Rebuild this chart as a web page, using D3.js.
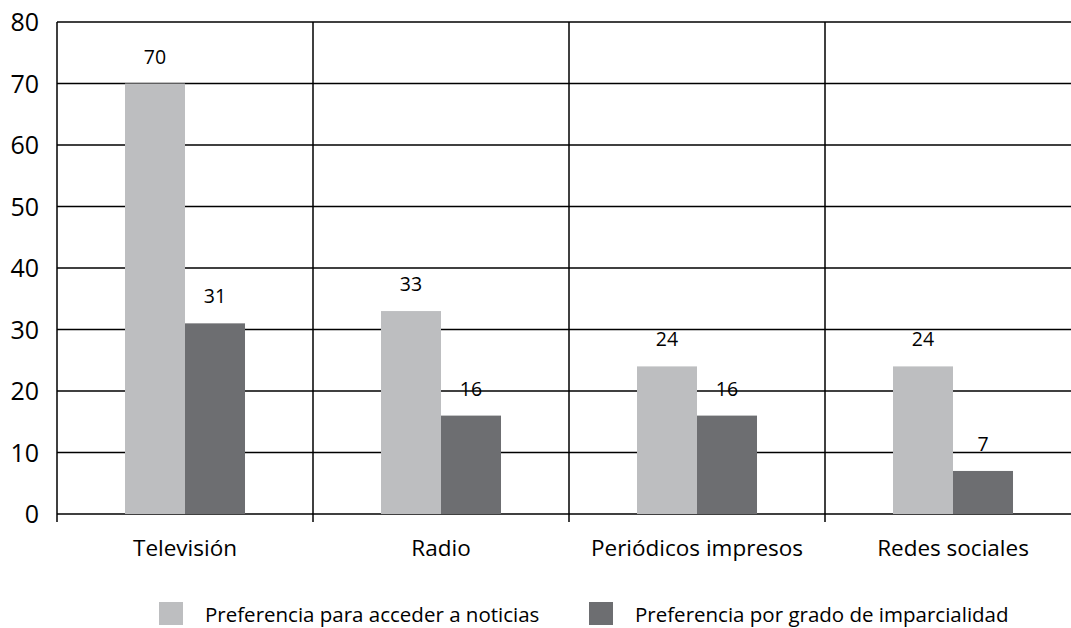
<!DOCTYPE html>
<html>
<head>
<meta charset="utf-8">
<script src="https://cdn.jsdelivr.net/npm/d3@7"></script>
<style>
  html, body { margin: 0; padding: 0; background: #fff; }
  svg { display: block; font-family: "Open Sans", sans-serif; }
</style>
</head>
<body>
<svg id="chart" width="1071" height="628"></svg>
<script>
const categories = ["Televisión", "Radio", "Periódicos impresos", "Redes sociales"];
const seriesNames = ["Preferencia para acceder a noticias", "Preferencia por grado de imparcialidad"];
const accesoValues = [70, 33, 24, 24];
const imparcialidadValues = [31, 16, 16, 7];
const yTicks = [0, 10, 20, 30, 40, 50, 60, 70, 80];
const colors = ["#bdbec0", "#6d6e71"];

const svg = d3.select("#chart");
const plotLeft = 57, plotRight = 1081, plotTop = 22, plotBottom = 514;

const x0 = d3.scaleBand().domain(categories).range([plotLeft, plotRight]).paddingInner(0).paddingOuter(0);
const x1 = d3.scaleBand().domain(seriesNames).range([0, x0.bandwidth()]).paddingInner(0).paddingOuter(1.133);
const y = d3.scaleLinear().domain([0, 80]).range([plotBottom, plotTop]);
const color = d3.scaleOrdinal().domain(seriesNames).range(colors);

const rows = categories.map((c, i) => ({
  category: c,
  values: [
    { series: seriesNames[0], value: accesoValues[i] },
    { series: seriesNames[1], value: imparcialidadValues[i] }
  ]
}));

// horizontal gridlines
svg.append("g").selectAll("line").data(yTicks).join("line")
  .attr("x1", plotLeft).attr("x2", plotRight)
  .attr("y1", d => y(d)).attr("y2", d => y(d))
  .attr("stroke", "#000").attr("stroke-width", 1.5);

// vertical dividers (category boundaries) with tick below axis
const boundaries = categories.map(c => x0(c)).concat([plotRight]);
svg.append("g").selectAll("line").data(boundaries).join("line")
  .attr("x1", d => d).attr("x2", d => d)
  .attr("y1", plotTop).attr("y2", plotBottom + 8)
  .attr("stroke", "#000").attr("stroke-width", 1.5);

// y axis labels
svg.append("g").selectAll("text").data(yTicks).join("text")
  .attr("x", 39).attr("y", d => y(d)).attr("dy", "0.36em")
  .attr("text-anchor", "end")
  .attr("font-size", 25).attr("fill", "#000")
  .text(d => d);

// bars
const groups = svg.append("g").selectAll("g").data(rows).join("g")
  .attr("transform", d => `translate(${x0(d.category)},0)`);

groups.selectAll("rect").data(d => d.values).join("rect")
  .attr("x", d => x1(d.series))
  .attr("width", x1.bandwidth())
  .attr("y", d => y(d.value))
  .attr("height", d => y(0) - y(d.value))
  .attr("fill", d => color(d.series));

groups.selectAll("text").data(d => d.values).join("text")
  .attr("x", d => x1(d.series) + x1.bandwidth() / 2)
  .attr("y", d => y(d.value) - 20)
  .attr("text-anchor", "middle")
  .attr("font-size", 19.5).attr("fill", "#000")
  .text(d => d.value);

// category labels
svg.append("g").selectAll("text").data(categories).join("text")
  .attr("x", d => x0(d) + x0.bandwidth() / 2)
  .attr("y", 556)
  .attr("text-anchor", "middle")
  .attr("font-size", 22.5).attr("fill", "#000")
  .text(d => d);

// legend
const legendX = [159, 589];
const legend = svg.append("g").selectAll("g").data(seriesNames).join("g")
  .attr("transform", (d, i) => `translate(${legendX[i]},602)`);
legend.append("rect").attr("width", 24).attr("height", 23).attr("fill", d => color(d));
legend.append("text").attr("x", 46).attr("y", 20)
  .attr("font-size", 20.5).attr("fill", "#000")
  .text(d => d);
</script>
</body>
</html>
